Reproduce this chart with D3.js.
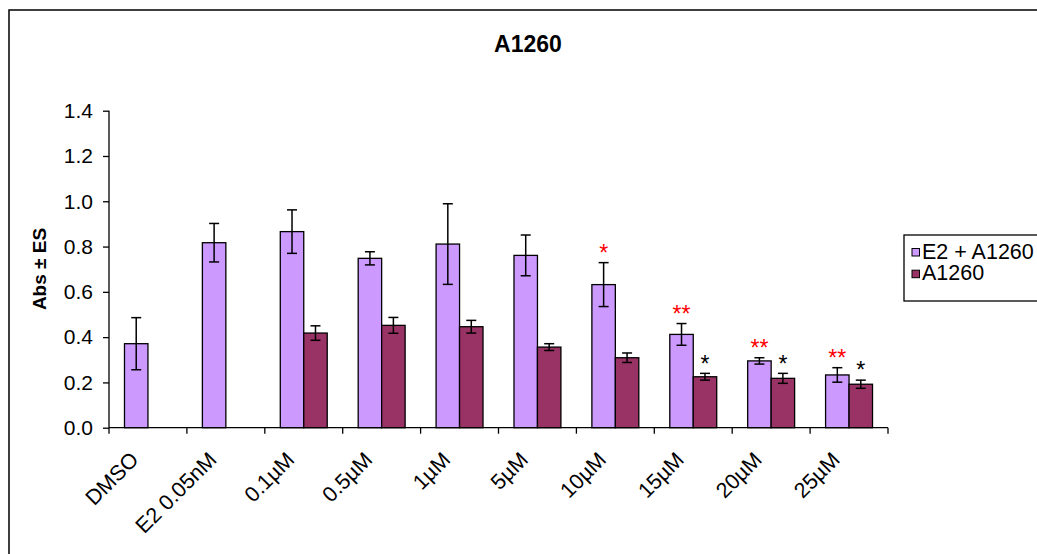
<!DOCTYPE html>
<html>
<head>
<meta charset="utf-8">
<script src="https://cdn.jsdelivr.net/npm/d3@7"></script>
<style>
  html, body { margin: 0; padding: 0; background: #fff; }
  svg { display: block; font-family: "Liberation Sans", Arial, sans-serif; }
</style>
</head>
<body>
<svg id="chart" width="1037" height="554"></svg>
<script>
// Absorbance by treatment group
const categories = ["DMSO", "E2 0.05nM", "0.1µM", "0.5µM", "1µM", "5µM", "10µM", "15µM", "20µM", "25µM"];
const seriesNames = ["E2 + A1260", "A1260"];
const e2Values  = [0.371, 0.817, 0.866, 0.748, 0.811, 0.761, 0.632, 0.412, 0.295, 0.233];
const e2Errors  = [0.115, 0.085, 0.096, 0.029, 0.178, 0.090, 0.097, 0.048, 0.014, 0.032];
const aValues   = [0, 0, 0.418, 0.452, 0.446, 0.356, 0.309, 0.225, 0.218, 0.192];
const aErrors   = [0, 0, 0.032, 0.035, 0.028, 0.015, 0.021, 0.015, 0.022, 0.018];
const e2Signif  = ["", "", "", "", "", "", "*", "**", "**", "**"];
const aSignif   = ["", "", "", "", "", "", "", "*", "*", "*"];
const yTicks    = [0, 0.2, 0.4, 0.6, 0.8, 1.0, 1.2, 1.4];

const colors = ["#CC99FF", "#993366"];
const sigColors = ["#FF0000", "#000000"];

const svg = d3.select("#chart");

// outer frame
svg.append("rect")
  .attr("x", 9).attr("y", 10).attr("width", 1100).attr("height", 600)
  .attr("fill", "none").attr("stroke", "#000").attr("stroke-width", 1.5);

const plot = { left: 109, right: 888, top: 110.7, bottom: 427.7 };

const x = d3.scaleBand().domain(categories).range([plot.left, plot.right]).padding(0);
const xs = d3.scaleBand().domain(seriesNames).range([0, x.bandwidth()])
  .paddingInner(0).paddingOuter(0.66);
const y = d3.scaleLinear().domain([0, 1.4]).range([plot.bottom, plot.top]);

// title
svg.append("text")
  .attr("x", 528).attr("y", 52)
  .attr("text-anchor", "middle")
  .attr("font-size", 23).attr("font-weight", "bold")
  .text("A1260");

// y axis label
svg.append("text")
  .attr("transform", `translate(46,269) rotate(-90)`)
  .attr("text-anchor", "middle")
  .attr("font-size", 19).attr("font-weight", "bold")
  .text("Abs ± ES");

// bars
const rows = categories.map((c, i) => ({
  cat: c,
  vals: [
    { s: seriesNames[0], v: e2Values[i], e: e2Errors[i], sig: e2Signif[i], k: 0 },
    { s: seriesNames[1], v: aValues[i], e: aErrors[i], sig: aSignif[i], k: 1 }
  ]
}));

const groups = svg.append("g").selectAll("g")
  .data(rows).join("g")
  .attr("transform", d => `translate(${x(d.cat)},0)`);

groups.selectAll("rect")
  .data(d => d.vals).join("rect")
  .attr("x", d => xs(d.s))
  .attr("width", xs.bandwidth())
  .attr("y", d => y(d.v))
  .attr("height", d => y(0) - y(d.v))
  .attr("fill", d => colors[d.k])
  .attr("stroke", "#000").attr("stroke-width", 1.3);

// error bars
const err = groups.selectAll("g.err")
  .data(d => d.vals.filter(v => v.e > 0)).join("g").attr("class", "err")
  .attr("stroke", "#000").attr("stroke-width", 1.5);
const cx = d => xs(d.s) + xs.bandwidth() / 2;
err.append("line")
  .attr("x1", cx).attr("x2", cx)
  .attr("y1", d => y(d.v + d.e)).attr("y2", d => y(d.v - d.e));
err.append("line")
  .attr("x1", d => cx(d) - 5).attr("x2", d => cx(d) + 5)
  .attr("y1", d => y(d.v + d.e)).attr("y2", d => y(d.v + d.e));
err.append("line")
  .attr("x1", d => cx(d) - 5).attr("x2", d => cx(d) + 5)
  .attr("y1", d => y(d.v - d.e)).attr("y2", d => y(d.v - d.e));

// significance markers
const starSize = 23;
groups.selectAll("text.sig")
  .data(d => d.vals.filter(v => v.sig)).join("text").attr("class", "sig")
  .attr("x", cx)
  .attr("y", d => y(d.v + d.e) - 15 + 0.58 * starSize)
  .attr("text-anchor", "middle")
  .attr("font-size", starSize)
  .attr("fill", d => sigColors[d.k])
  .text(d => d.sig);

// y axis
const yAxis = svg.append("g")
  .attr("transform", `translate(${plot.left},0)`)
  .call(d3.axisLeft(y).tickValues(yTicks).tickFormat(d3.format(".1f")).tickSize(6).tickPadding(10));
yAxis.select(".domain").attr("stroke", "#000").attr("stroke-width", 1.3).attr("d", `M0,${plot.top}V${plot.bottom}`);
yAxis.selectAll(".tick line").attr("stroke", "#000").attr("stroke-width", 1.3);
yAxis.selectAll(".tick text").attr("font-size", 21).attr("font-family", "Liberation Sans, Arial, sans-serif").attr("fill", "#000");

// x axis line and ticks at category boundaries
const xa = svg.append("g");
xa.append("line")
  .attr("x1", plot.left).attr("x2", plot.right)
  .attr("y1", plot.bottom).attr("y2", plot.bottom)
  .attr("stroke", "#000").attr("stroke-width", 1.3);
const bounds = categories.map(c => x(c)).concat([plot.right]);
xa.selectAll("line.tk").data(bounds).join("line").attr("class", "tk")
  .attr("x1", d => d).attr("x2", d => d)
  .attr("y1", plot.bottom).attr("y2", plot.bottom + 6)
  .attr("stroke", "#000").attr("stroke-width", 1.3);
xa.selectAll("text").data(categories).join("text")
  .attr("transform", d => `translate(${x(d) + x.bandwidth() / 2 - 8},461) rotate(-45)`)
  .attr("text-anchor", "end")
  .attr("font-size", 21.5)
  .text(d => d);

// legend
const legend = svg.append("g");
legend.append("rect")
  .attr("x", 904).attr("y", 235).attr("width", 200).attr("height", 66)
  .attr("fill", "#fff").attr("stroke", "#000").attr("stroke-width", 1.3);
const li = legend.selectAll("g.item").data(seriesNames).join("g").attr("class", "item")
  .attr("transform", (d, i) => `translate(912,${258.5 + i * 21.7})`);
li.append("rect")
  .attr("x", 0).attr("y", -10).attr("width", 7.5).attr("height", 7.5)
  .attr("fill", (d, i) => colors[i]).attr("stroke", "#000").attr("stroke-width", 1);
li.append("text")
  .attr("x", 10).attr("y", 0)
  .attr("font-size", 21.5)
  .text(d => d);
</script>
</body>
</html>
